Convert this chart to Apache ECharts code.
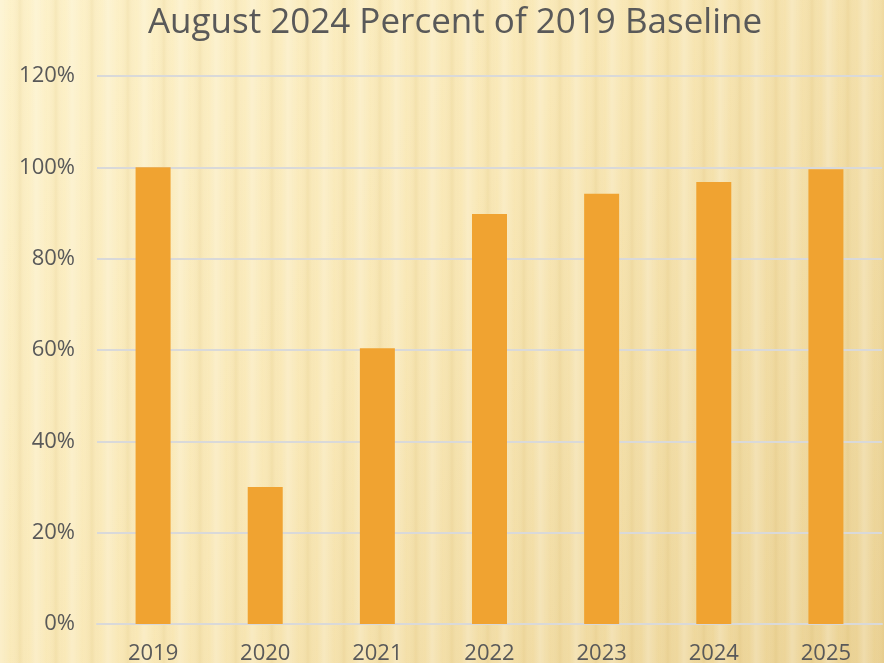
<!DOCTYPE html>
<html>
<head>
<meta charset="utf-8">
<script src="https://cdn.jsdelivr.net/npm/echarts@6/dist/echarts.min.js"></script>
<style>
  html, body { margin: 0; padding: 0; }
  #chart { width: 884px; height: 663px; }
</style>
</head>
<body>
<div id="chart"></div>
<script>
var years = ["2019", "2020", "2021", "2022", "2023", "2024", "2025"];
var percentOfBaseline = [100, 30, 60.4, 89.8, 94.2, 96.8, 99.6];
var yTicks = [0, 20, 40, 60, 80, 100, 120];

// soft vertical stripes for the background
function stripeCanvas() {
  var c = document.createElement("canvas");
  c.width = 36;
  c.height = 10;
  var ctx = c.getContext("2d");
  var g = ctx.createLinearGradient(0, 0, 36, 0);
  g.addColorStop(0, "rgba(255,255,255,0.22)");
  g.addColorStop(0.3, "rgba(255,255,255,0)");
  g.addColorStop(0.55, "rgba(190,150,60,0.10)");
  g.addColorStop(0.8, "rgba(255,255,255,0)");
  g.addColorStop(1, "rgba(255,255,255,0.22)");
  ctx.fillStyle = g;
  ctx.fillRect(0, 0, 36, 10);
  return c;
}

var chart = echarts.init(document.getElementById("chart"));
chart.setOption({
  backgroundColor: new echarts.graphic.LinearGradient(0, 0, 1, 1, [
    { offset: 0, color: "#fdf2ca" },
    { offset: 0.45, color: "#f9e8b6" },
    { offset: 1, color: "#ebd294" }
  ]),
  graphic: [
    {
      type: "rect",
      left: 0,
      top: 0,
      z: -10,
      silent: true,
      shape: { width: 884, height: 663 },
      style: { fill: { image: stripeCanvas(), repeat: "repeat" } }
    }
  ],
  title: {
    text: "August 2024 Percent of 2019 Baseline",
    left: 450,
    textAlign: "center",
    top: 1,
    textStyle: {
      fontFamily: "Open Sans",
      fontWeight: "normal",
      fontSize: 35,
      color: "#595959"
    }
  },
  grid: {
    left: 97,
    right: 2,
    top: 76,
    bottom: 39,
    containLabel: false,
    outerBoundsMode: "none"
  },
  xAxis: {
    type: "category",
    data: years,
    axisLine: { lineStyle: { color: "#d9d9d9", width: 2 } },
    axisTick: { show: false },
    axisLabel: {
      color: "#595959",
      fontFamily: "Open Sans",
      fontSize: 22,
      margin: 19
    }
  },
  yAxis: {
    type: "value",
    min: 0,
    max: 120,
    interval: 20,
    axisLine: { show: false },
    axisTick: { show: false },
    splitLine: { lineStyle: { color: "#d9d9d9", width: 2 } },
    axisLabel: {
      color: "#595959",
      fontFamily: "Open Sans",
      fontSize: 22,
      margin: 22,
      formatter: function (v) {
        return yTicks.indexOf(v) >= 0 ? v + "%" : "";
      }
    }
  },
  series: [
    {
      type: "bar",
      data: percentOfBaseline,
      barWidth: 35,
      itemStyle: { color: "#f0a331" },
      silent: true
    }
  ]
});
</script>
</body>
</html>
